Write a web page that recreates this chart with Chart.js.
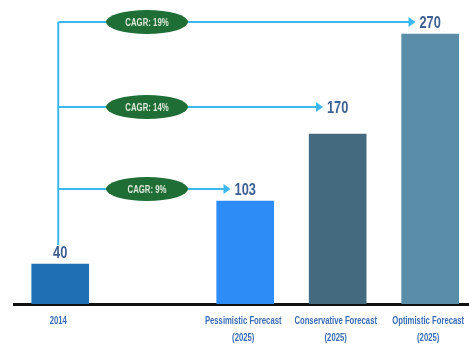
<!DOCTYPE html>
<html>
<head>
<meta charset="utf-8">
<script src="https://cdn.jsdelivr.net/npm/chart.js@4"></script>
<style>
  html, body { margin: 0; padding: 0; background: #fff; }
  #wrap { width: 469px; height: 344px; position: relative; }
</style>
</head>
<body>
<div id="wrap"><canvas id="myChart"></canvas></div>
<script>
// categories sit on slots 0,2,3,4 (slot 1 is left empty like the original)
const slots = [0, 2, 3, 4];
const labels = [['2014'], ['Pessimistic Forecast', '(2025)'], ['Conservative Forecast', '(2025)'], ['Optimistic Forecast', '(2025)']];
const values = [40, 103, 170, 270];
const cagr = [null, 'CAGR: 9%', 'CAGR: 14%', 'CAGR: 19%'];
const barColors = ['#1f6fb5', '#2d8cf5', '#436a7e', '#5a8ea8'];

const fam = "'Liberation Sans', Arial, sans-serif";

// condensed text: squeeze horizontally since no narrow font is installed
function narrowText(ctx, txt, x, y, sx) {
  ctx.save();
  ctx.translate(x, y);
  ctx.scale(sx, 1);
  ctx.fillText(txt, 0, 0);
  ctx.restore();
}

// draws the value labels, blue arrows, CAGR ovals and x labels
const arrowPlugin = {
  id: 'arrows',
  afterDatasetsDraw(chart) {
    const ctx = chart.ctx;
    const meta = chart.getDatasetMeta(0);
    const gaps = [12, 12, 27, 12];
    ctx.save();
    ctx.textAlign = 'center';
    ctx.textBaseline = 'middle';
    const valFont = 'bold 16px ' + fam;
    const valScale = 0.8;
    ctx.font = valFont;
    const pts = meta.data.map((bar, i) => ({ x: bar.x, y: bar.y - gaps[i] }));
    const startX = pts[0].x - 2;
    // vertical line
    ctx.strokeStyle = '#3bb8f0';
    ctx.lineWidth = 2;
    ctx.beginPath();
    ctx.moveTo(startX, pts[3].y);
    ctx.lineTo(startX, pts[0].y - 7);
    ctx.stroke();
    for (let i = 1; i < pts.length; i++) {
      ctx.font = valFont;
      const w = ctx.measureText(String(values[i])).width * valScale;
      const tip = pts[i].x - w / 2 - 4;
      ctx.strokeStyle = '#3bb8f0';
      ctx.fillStyle = '#3bb8f0';
      ctx.beginPath();
      ctx.moveTo(startX, pts[i].y);
      ctx.lineTo(tip - 4, pts[i].y);
      ctx.stroke();
      ctx.beginPath();
      ctx.moveTo(tip, pts[i].y);
      ctx.lineTo(tip - 7, pts[i].y - 5);
      ctx.lineTo(tip - 7, pts[i].y + 5);
      ctx.closePath();
      ctx.fill();
      // oval
      ctx.fillStyle = '#1f6e35';
      ctx.beginPath();
      ctx.ellipse(147, pts[i].y, 41, 12, 0, 0, Math.PI * 2);
      ctx.fill();
      ctx.fillStyle = '#dfe9dc';
      ctx.font = 'bold 10px ' + fam;
      narrowText(ctx, cagr[i], 147, pts[i].y + 1, 0.78);
    }
    ctx.font = valFont;
    ctx.fillStyle = '#3d5f93';
    pts.forEach((p, i) => {
      narrowText(ctx, String(values[i]), p.x, p.y + 2, valScale);
    });
    // x labels
    const area = chart.chartArea;
    ctx.font = 'bold 11px ' + fam;
    ctx.fillStyle = '#3a6cb3';
    meta.data.forEach((bar, i) => {
      labels[i].forEach((line, j) => {
        narrowText(ctx, line, bar.x - 2, area.bottom + 17 + j * 17, 0.7);
      });
    });
    ctx.restore();
  }
};

new Chart(document.getElementById('myChart'), {
  type: 'bar',
  data: {
    datasets: [{
      data: slots.map((s, i) => ({ x: s, y: values[i] })),
      backgroundColor: barColors,
      borderWidth: 0,
      barThickness: 57
    }]
  },
  options: {
    responsive: true,
    maintainAspectRatio: false,
    animation: false,
    layout: { padding: { left: 14, right: 0, top: 4, bottom: 0 } },
    plugins: { legend: { display: false }, tooltip: { enabled: false } },
    scales: {
      x: {
        type: 'linear',
        offset: false,
        min: -0.5,
        max: 4.42,
        grid: { display: false },
        border: { display: true, color: '#111', width: 3 },
        ticks: { display: false },
        afterFit: (scale) => { scale.height = 40; }
      },
      y: {
        display: false,
        min: 0,
        max: 300
      }
    }
  },
  plugins: [arrowPlugin]
});
</script>
</body>
</html>
